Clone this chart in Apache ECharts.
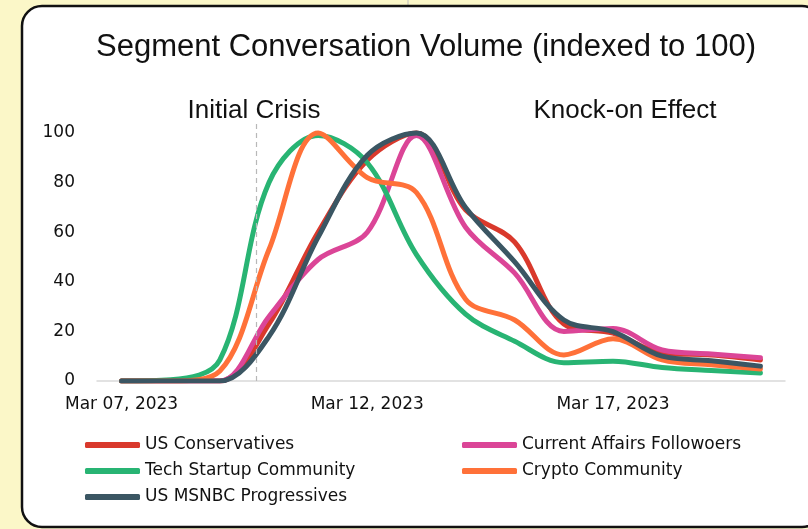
<!DOCTYPE html>
<html>
<head>
<meta charset="utf-8">
<title>Segment Conversation Volume</title>
<script src="https://cdn.jsdelivr.net/npm/echarts@6/dist/echarts.min.js"></script>
<style>
  html, body { margin: 0; padding: 0; background: #FBF7C8; }
  #chart { width: 808px; height: 529px; }
</style>
</head>
<body>
<div id="chart"></div>
<script>
// Daily categories, Mar 07 – Mar 20, 2023
const dates = [
  'Mar 07, 2023', 'Mar 08, 2023', 'Mar 09, 2023', 'Mar 10, 2023', 'Mar 11, 2023',
  'Mar 12, 2023', 'Mar 13, 2023', 'Mar 14, 2023', 'Mar 15, 2023', 'Mar 16, 2023',
  'Mar 17, 2023', 'Mar 18, 2023', 'Mar 19, 2023', 'Mar 20, 2023'
];

// Conversation volume per segment, indexed so each segment's peak = 100
const usConservatives   = [0, 0, 0, 23, 60, 89, 100, 69, 56, 23, 19.3, 11.3, 10.5, 8.5];
const currentAffairs    = [0, 0, 0, 26, 49, 60, 99, 62, 43.5, 20, 21.2, 12.5, 10.9, 9.4];
const techStartup       = [0, 0.5, 8.5, 80, 99, 88, 51, 27, 16, 7.4, 8, 5.4, 4.2, 3.2];
const cryptoCommunity   = [0, 0, 4, 53, 100, 82, 76, 33, 24.6, 10.5, 17, 8.5, 6.5, 4.8];
const msnbcProgressives = [0, 0, 0, 18, 58, 91, 100, 70, 48, 24.6, 19.9, 10, 8.2, 6];

// Y-axis ticks
const yTicks = [0, 20, 40, 60, 80, 100];

// Start of the crisis, in days after Mar 07
const crisisStart = 2.75;

// Phase annotations
const phaseLabels = ['Initial Crisis', 'Knock-on Effect'];

const seriesDefs = [
  { name: 'US Conservatives', data: usConservatives, color: '#D9392C' },
  { name: 'Current Affairs Followoers', data: currentAffairs, color: '#DB4597' },
  { name: 'Tech Startup Community', data: techStartup, color: '#28B473' },
  { name: 'Crypto Community', data: cryptoCommunity, color: '#FF7139' },
  { name: 'US MSNBC Progressives', data: msnbcProgressives, color: '#3B5663' }
];

const labelFont = 'DejaVu Sans';
const headFont = 'Liberation Sans';

const chart = echarts.init(document.getElementById('chart'), null, { renderer: 'canvas' });

const lineSeries = seriesDefs.map(s => ({
  name: s.name,
  type: 'line',
  data: s.data,
  smooth: 0.35,
  symbol: 'none',
  lineStyle: { width: 5, color: s.color, cap: 'round', join: 'round' },
  itemStyle: { color: s.color },
  emphasis: { disabled: true },
  animation: false
}));

// Carries the dashed crisis-start marker on a hidden day-index axis
lineSeries.push({
  name: 'crisis',
  type: 'line',
  xAxisIndex: 1,
  data: [],
  silent: true,
  animation: false,
  markLine: {
    silent: true,
    symbol: 'none',
    label: { show: false },
    lineStyle: { color: '#B8B8B8', type: [5, 4], width: 1.2 },
    data: [{ xAxis: crisisStart }],
    animation: false
  }
});

const legendText = { fontFamily: labelFont, fontSize: 17, color: '#111', lineHeight: 20 };
const legendBase = {
  orient: 'vertical',
  top: 435,
  padding: 0,
  itemGap: 6,
  itemWidth: 55,
  itemHeight: 6,
  icon: 'roundRect',
  textStyle: legendText,
  selectedMode: false
};

chart.setOption({
  backgroundColor: '#FBF7C8',
  animation: false,
  graphic: [
    {
      type: 'line',
      z: 0,
      shape: { x1: 408, y1: 0, x2: 408, y2: 6 },
      style: { stroke: '#BDBDBD', lineWidth: 1 }
    },
    {
      type: 'rect',
      z: 0,
      shape: { x: 22, y: 6, width: 800, height: 521, r: 20 },
      style: { fill: '#FFFFFF', stroke: '#111111', lineWidth: 2.5 }
    }
  ],
  title: [
    {
      text: 'Segment Conversation Volume (indexed to 100)',
      left: 421, top: 27, textAlign: 'center',
      textStyle: { fontFamily: headFont, fontSize: 31, fontWeight: 'normal', color: '#111' }
    },
    {
      text: phaseLabels[0],
      left: 249, top: 93, textAlign: 'center',
      textStyle: { fontFamily: headFont, fontSize: 26, fontWeight: 'normal', color: '#111' }
    },
    {
      text: phaseLabels[1],
      left: 620, top: 93, textAlign: 'center',
      textStyle: { fontFamily: headFont, fontSize: 26, fontWeight: 'normal', color: '#111' }
    }
  ],
  legend: [
    Object.assign({}, legendBase, {
      left: 85,
      data: ['US Conservatives', 'Tech Startup Community', 'US MSNBC Progressives']
    }),
    Object.assign({}, legendBase, {
      left: 462,
      data: ['Current Affairs Followoers', 'Crypto Community']
    })
  ],
  grid: { left: 97, right: 23, top: 120.6, bottom: 148, containLabel: false },
  xAxis: [
    {
      type: 'category',
      data: dates,
      boundaryGap: true,
      axisLine: { show: true, lineStyle: { color: '#D9D9D9', width: 1.5 } },
      axisTick: { show: false },
      splitLine: { show: false },
      axisLabel: {
        interval: 4,
        margin: 15,
        fontFamily: labelFont,
        fontSize: 17,
        color: '#111'
      }
    },
    {
      type: 'value',
      show: false,
      min: -0.5,
      max: dates.length - 0.5
    }
  ],
  yAxis: {
    type: 'value',
    min: 0,
    max: 105,
    interval: yTicks[1] - yTicks[0],
    axisLine: { show: false },
    axisTick: { show: false },
    splitLine: { show: false },
    axisLabel: {
      showMaxLabel: false,
      margin: 22,
      fontFamily: labelFont,
      fontSize: 17,
      color: '#111',
      formatter: v => (yTicks.indexOf(v) >= 0 ? String(v) : '')
    }
  },
  series: lineSeries
});
</script>
</body>
</html>
